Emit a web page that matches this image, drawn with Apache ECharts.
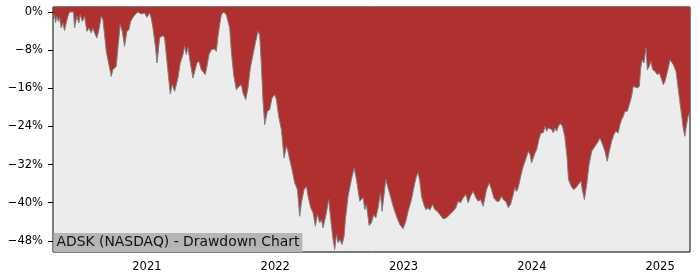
<!DOCTYPE html>
<html>
<head>
<meta charset="utf-8">
<script src="https://cdn.jsdelivr.net/npm/echarts@6/dist/echarts.min.js"></script>
<style>
html,body{margin:0;padding:0;background:#fff;}
#chart{width:700px;height:280px;}
</style>
</head>
<body>
<div id="chart"></div>
<script>
// Time of each reading, as decimal years
const years = [
2020.268,2020.280,2020.288,2020.298,2020.311,2020.319,2020.332,2020.345,2020.358,2020.371,
2020.384,2020.397,2020.428,2020.436,2020.454,2020.470,2020.480,2020.496,2020.514,2020.532,
2020.548,2020.566,2020.579,2020.592,2020.610,2020.626,2020.644,2020.657,2020.670,2020.683,
2020.704,2020.722,2020.735,2020.761,2020.774,2020.792,2020.808,2020.826,2020.844,2020.860,
2020.873,2020.891,2020.912,2020.930,2020.956,2020.982,2021.000,2021.021,2021.034,2021.047,
2021.068,2021.078,2021.086,2021.099,2021.125,2021.138,2021.151,2021.172,2021.182,2021.198,
2021.216,2021.229,2021.242,2021.260,2021.281,2021.294,2021.307,2021.320,2021.338,2021.359,
2021.372,2021.390,2021.406,2021.424,2021.437,2021.455,2021.468,2021.484,2021.502,2021.528,
2021.541,2021.554,2021.567,2021.580,2021.598,2021.619,2021.632,2021.645,2021.658,2021.676,
2021.697,2021.718,2021.736,2021.749,2021.770,2021.788,2021.806,2021.827,2021.848,2021.866,
2021.879,2021.892,2021.905,2021.918,2021.939,2021.957,2021.975,2021.996,2022.009,2022.027,
2022.048,2022.069,2022.087,2022.100,2022.113,2022.131,2022.152,2022.173,2022.191,2022.204,
2022.225,2022.243,2022.256,2022.277,2022.295,2022.313,2022.329,2022.347,2022.360,2022.373,
2022.386,2022.399,2022.417,2022.433,2022.451,2022.464,2022.477,2022.490,2022.503,2022.521,
2022.537,2022.547,2022.568,2022.594,2022.615,2022.633,2022.659,2022.685,2022.698,2022.711,
2022.732,2022.750,2022.768,2022.784,2022.802,2022.820,2022.833,2022.846,2022.862,2022.880,
2022.898,2022.919,2022.945,2022.971,2022.997,2023.018,2023.036,2023.062,2023.088,2023.101,
2023.114,2023.127,2023.140,2023.158,2023.174,2023.192,2023.205,2023.226,2023.244,2023.262,
2023.283,2023.309,2023.335,2023.361,2023.387,2023.408,2023.426,2023.444,2023.465,2023.486,
2023.504,2023.522,2023.543,2023.564,2023.582,2023.600,2023.621,2023.647,2023.668,2023.686,
2023.704,2023.725,2023.746,2023.764,2023.777,2023.798,2023.816,2023.834,2023.855,2023.868,
2023.881,2023.894,2023.915,2023.933,2023.952,2023.973,2023.986,2023.998,2024.011,2024.025,
2024.038,2024.055,2024.071,2024.089,2024.103,2024.116,2024.129,2024.142,2024.155,2024.168,
2024.181,2024.194,2024.207,2024.220,2024.238,2024.257,2024.274,2024.286,2024.307,2024.325,
2024.343,2024.362,2024.383,2024.393,2024.410,2024.428,2024.446,2024.467,2024.493,2024.518,
2024.531,2024.552,2024.570,2024.588,2024.604,2024.622,2024.640,2024.655,2024.673,2024.687,
2024.700,2024.713,2024.726,2024.744,2024.760,2024.778,2024.791,2024.804,2024.822,2024.838,
2024.849,2024.861,2024.874,2024.890,2024.900,2024.916,2024.929,2024.942,2024.960,2024.978,
2024.994,2025.012,2025.025,2025.038,2025.051,2025.064,2025.077,2025.090,2025.103,2025.124,
2025.134,2025.150,2025.167,2025.180,2025.193,2025.206,2025.219,2025.233
];
// Drawdown from running peak, in percent
const drawdown = [
-2.45,-0.57,-2.24,-0.92,-1.97,-1.13,-3.35,-2.31,-3.92,-2.31,
-0.92,0,0,-3.35,-0.92,-2.31,-0.57,-1.97,-0.92,-4.07,
-3.35,-4.40,-3.35,-4.40,-5.45,-3.71,-0.92,-1.61,-4.76,-8.26,
-11.05,-13.50,-12.10,-11.40,-7.55,-2.66,-4.07,-7.21,-4.07,-3.71,
-1.97,-1.13,-0.42,0,-0.42,-0.21,-1.13,-0.21,-1.26,-3.35,
-7.55,-10.69,-8.95,-5.39,-4.91,-5.45,-8.95,-14.55,-17.19,-15.24,
-16.65,-16.98,-13.84,-10.69,-8.95,-7.21,-8.95,-7.42,-10.69,-13.84,
-14.19,-10.69,-10.36,-12.10,-12.45,-13.14,-11.40,-8.95,-7.90,-7.76,
-8.26,-5.12,-2.66,-0.57,0,-0.57,-0.21,-3.35,-8.26,-13.14,
-16.29,-15.60,-15.24,-16.98,-18.38,-15.93,-11.74,-8.95,-6.16,-4.07,
-4.76,-11.05,-18.74,-23.63,-20.84,-20.48,-18.03,-17.34,-18.38,-21.89,
-24.67,-30.61,-28.18,-29.22,-30.96,-33.06,-35.85,-37.25,-42.85,-40.04,
-37.25,-36.56,-38.66,-41.09,-42.14,-44.95,-42.49,-44.23,-43.54,-45.28,
-44.95,-42.14,-39.35,-43.54,-47.73,-49.83,-46.69,-48.43,-47.73,-48.78,
-47.04,-43.54,-38.66,-35.16,-32.70,-35.16,-39.70,-38.93,-41.45,-40.40,
-44.80,-44.23,-42.49,-43.18,-41.09,-37.94,-41.80,-42.14,-35.16,-36.90,
-38.66,-40.75,-42.85,-44.59,-45.49,-43.90,-41.80,-39.35,-35.85,-34.46,
-33.75,-35.51,-38.66,-40.40,-41.45,-41.09,-41.59,-40.40,-41.45,-41.80,
-42.49,-43.40,-43.18,-42.49,-41.80,-41.09,-39.70,-40.04,-38.99,-38.30,
-40.04,-38.66,-37.61,-38.99,-39.70,-39.35,-40.75,-37.25,-35.85,-37.25,
-38.99,-39.70,-39.70,-38.66,-39.35,-39.77,-41.03,-40.40,-38.30,-36.83,
-37.67,-36.83,-34.32,-32.43,-30.96,-29.22,-29.92,-31.66,-31.32,-29.56,
-28.87,-26.77,-25.37,-25.37,-23.98,-25.03,-24.32,-23.98,-24.67,-25.37,
-24.32,-25.03,-23.98,-23.42,-23.84,-26.08,-30.27,-35.16,-36.56,-37.25,
-36.90,-36.20,-35.51,-37.25,-39.35,-36.20,-32.01,-29.22,-28.18,-27.13,
-26.41,-27.82,-29.22,-31.32,-29.22,-27.13,-25.72,-25.03,-25.37,-23.63,
-22.58,-21.89,-20.84,-20.84,-19.43,-17.69,-15.60,-15.93,-15.93,-15.60,
-11.74,-10.00,-10.69,-7.55,-12.10,-11.40,-10.36,-12.10,-12.45,-13.14,
-12.79,-14.19,-15.24,-14.55,-13.14,-11.74,-10.00,-10.36,-11.05,-12.45,
-14.55,-18.03,-21.53,-24.32,-26.08,-23.63,-21.89,-21.11
];
const yearTicks = [2021, 2022, 2023, 2024, 2025];
const pctTicks = [0, -8, -16, -24, -32, -40, -48];
const chartTitle = 'ADSK (NASDAQ) - Drawdown Chart';

const points = years.map((t, i) => [t, drawdown[i]]);
const chart = echarts.init(document.getElementById('chart'), null, {renderer: 'canvas'});
const font = 'DejaVu Sans';
chart.setOption({
  animation: false,
  backgroundColor: '#ffffff',
  title: {
    text: chartTitle,
    left: 53.5, top: 233,
    padding: [2, 3, 2, 3],
    backgroundColor: '#b5b5b5',
    textStyle: {fontFamily: font, fontSize: 13.9, fontWeight: 'normal', color: '#111', lineHeight: 15}
  },
  grid: {
    left: 53, right: 10, top: 7, bottom: 28,
    show: true, backgroundColor: '#ececec', borderColor: '#000', borderWidth: 1
  },
  xAxis: {
    type: 'value',
    min: years[0], max: years[years.length - 1],
    splitLine: {show: false},
    axisLine: {show: false},
    axisTick: {show: true, length: 5, lineStyle: {color: '#000', width: 1}, customValues: yearTicks},
    axisLabel: {customValues: yearTicks, formatter: v => String(Math.round(v)), color: '#000',
      fontFamily: font, fontSize: 11.5, margin: 9}
  },
  yAxis: {
    type: 'value',
    min: -50.35, max: 1.05,
    splitLine: {show: false},
    axisLine: {show: false},
    axisTick: {show: true, length: 5, lineStyle: {color: '#000', width: 1}, customValues: pctTicks},
    axisLabel: {customValues: pctTicks, color: '#000', fontFamily: font, fontSize: 11.5, margin: 10,
      formatter: v => (v < 0 ? '\u2212' + Math.abs(v) : String(v)) + '%'}
  },
  series: [{
    type: 'line',
    data: points,
    showSymbol: false,
    symbol: 'none',
    lineStyle: {color: '#808080', width: 1},
    areaStyle: {color: '#b03030', opacity: 1, origin: 'end'},
    z: 2
  }]
});
</script>
</body>
</html>
